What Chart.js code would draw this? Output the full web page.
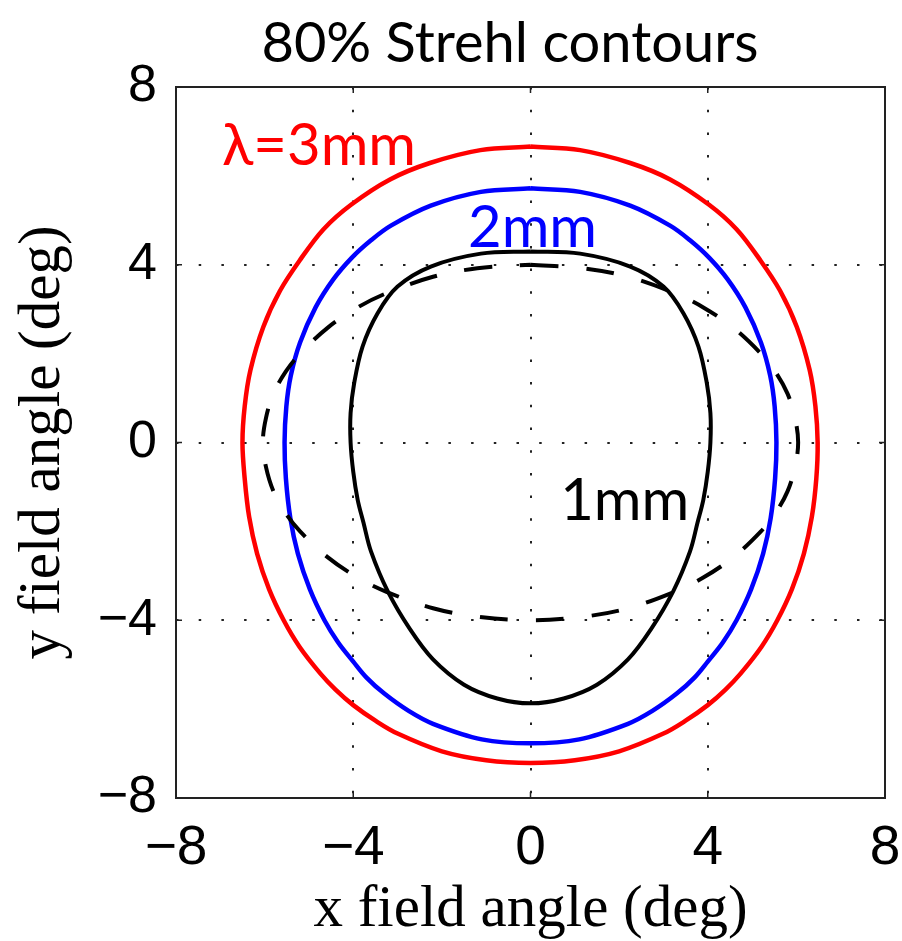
<!DOCTYPE html>
<html>
<head>
<meta charset="utf-8">
<script src="https://cdn.jsdelivr.net/npm/chart.js@4.4.1/dist/chart.umd.min.js"></script>
<style>
  html, body { margin: 0; padding: 0; background: #ffffff; }
  #wrap { width: 902px; height: 941px; }
</style>
</head>
<body>
<div id="wrap"><canvas id="chart" width="902" height="941"></canvas></div>
<script>
// 80% Strehl contours over the field of view (degrees)
const TITLE = '80% Strehl contours';
const X_TICKS = [-8, -4, 0, 4, 8];
const Y_TICKS = [-8, -4, 0, 4, 8];

// λ = 3 mm contour (clockwise from the top)
const c3mmX = [0, 1.12, 2.25, 3.15, 4.03, 4.65, 5.18, 5.63, 6.01, 6.3, 6.43, 6.48, 6.45, 6.35, 6.17, 5.9, 5.57, 5.21, 4.74, 4.4, 4.0, 3.5, 3.0, 2.0, 1.0, 0, -1.0, -2.0, -3.0, -3.5, -4.0, -4.4, -4.74, -5.21, -5.57, -5.9, -6.17, -6.35, -6.45, -6.5, -6.45, -6.32, -6.03, -5.65, -5.2, -4.67, -4.05, -3.17, -2.27, -1.13, 0];
const c3mmY = [6.66, 6.58, 6.29, 5.92, 5.35, 4.8, 4.11, 3.42, 2.6, 1.63, 0.81, 0, -0.81, -1.67, -2.5, -3.3, -4.0, -4.6, -5.2, -5.56, -5.91, -6.26, -6.55, -6.95, -7.15, -7.21, -7.15, -6.95, -6.55, -6.26, -5.91, -5.56, -5.2, -4.6, -4.0, -3.3, -2.5, -1.67, -0.81, 0, 0.81, 1.63, 2.6, 3.42, 4.11, 4.8, 5.35, 5.92, 6.29, 6.58, 6.66];

// λ = 2 mm contour
const c2mmX = [0, 1.12, 2.25, 3.15, 3.6, 4.03, 4.45, 4.85, 5.2, 5.41, 5.51, 5.55, 5.52, 5.42, 5.25, 4.98, 4.65, 4.34, 4.0, 3.7, 3.3, 2.75, 2.2, 1.1, 0, -1.1, -2.2, -2.75, -3.3, -3.7, -4.0, -4.34, -4.65, -4.98, -5.25, -5.42, -5.52, -5.55, -5.51, -5.41, -5.2, -4.85, -4.45, -4.03, -3.6, -3.15, -2.25, -1.12, 0];
const c2mmY = [5.72, 5.64, 5.33, 4.88, 4.55, 4.16, 3.67, 3.04, 2.25, 1.5, 0.81, 0, -0.81, -1.7, -2.5, -3.3, -4.0, -4.5, -4.93, -5.29, -5.65, -6.04, -6.33, -6.68, -6.77, -6.68, -6.33, -6.04, -5.65, -5.29, -4.93, -4.5, -4.0, -3.3, -2.5, -1.7, -0.81, 0, 0.81, 1.5, 2.25, 3.04, 3.67, 4.16, 4.55, 4.88, 5.33, 5.64, 5.72];

// λ = 1 mm contour (solid)
const c1mmX = [0, 1.12, 2.25, 3.0, 3.45, 3.79, 3.98, 4.06, 4.06, 4.0, 3.9, 3.77, 3.6, 3.22, 2.72, 2.2, 1.5, 0.75, 0, -0.75, -1.5, -2.2, -2.72, -3.22, -3.6, -3.77, -3.9, -4.0, -4.06, -4.06, -3.98, -3.79, -3.45, -3.0, -2.25, -1.12, 0];
const c1mmY = [4.3, 4.25, 3.96, 3.51, 2.91, 2.16, 1.33, 0.66, 0, -0.66, -1.29, -1.8, -2.45, -3.35, -4.2, -4.88, -5.45, -5.76, -5.87, -5.76, -5.45, -4.88, -4.2, -3.35, -2.45, -1.8, -1.29, -0.66, 0, 0.66, 1.33, 2.16, 2.91, 3.51, 3.96, 4.25, 4.3];

// 1 mm contour (dashed)
const c1mmDashX = [0, 1.2, 2.2, 3.25, 3.9, 4.58, 5.2, 5.52, 5.8, 5.97, 6.04, 5.97, 5.8, 5.52, 5.2, 4.58, 3.9, 3.25, 2.2, 1.2, 0, -1.2, -2.2, -3.25, -3.9, -4.58, -5.2, -5.52, -5.8, -5.97, -6.04, -5.97, -5.8, -5.52, -5.2, -4.58, -3.9, -3.25, -2.2, -1.2, 0];
const c1mmDashY = [4.0, 3.92, 3.73, 3.36, 3.04, 2.58, 2.0, 1.6, 1.1, 0.55, 0, -0.55, -1.1, -1.6, -2.0, -2.58, -3.04, -3.36, -3.73, -3.92, -4.0, -3.92, -3.73, -3.36, -3.04, -2.58, -2.0, -1.6, -1.1, -0.55, 0, 0.55, 1.1, 1.6, 2.0, 2.58, 3.04, 3.36, 3.73, 3.92, 4.0];

// Contour labels (text, anchor in data units, colour)
const LABEL_TEXT = ['λ=3mm', '2mm', '1mm'];
const LABEL_X = [-6.96, -1.41, 0.67];
const LABEL_Y = [6.25, 4.40, -1.75];
const LABEL_COLOR = ['#ff0000', '#0000ff', '#000000'];

const pts = (xs, ys) => xs.map((x, i) => ({ x: x, y: ys[i] }));

const SANS = '"Liberation Sans", Arial, sans-serif';
const SERIF = '"Liberation Serif", "Times New Roman", serif';
const HUMAN = 'Lato, "Open Sans", sans-serif';

const fmtTick = v => (v < 0 ? '\u2212' + Math.abs(v) : String(v));

// Frame, inward tick marks, title and contour labels
const decorations = {
  id: 'decorations',
  afterDatasetsDraw(chart) {
    const { ctx, chartArea: a, scales } = chart;
    const xs = scales.x, ys = scales.y;
    ctx.save();
    ctx.strokeStyle = '#222222';
    ctx.lineWidth = 2;
    ctx.setLineDash([]);
    ctx.strokeRect(a.left, a.top, a.right - a.left, a.bottom - a.top);
    const tl = 6;
    ctx.lineWidth = 1.5;
    ctx.beginPath();
    X_TICKS.forEach(v => {
      const px = xs.getPixelForValue(v);
      ctx.moveTo(px, a.bottom); ctx.lineTo(px, a.bottom - tl);
      ctx.moveTo(px, a.top); ctx.lineTo(px, a.top + tl);
    });
    Y_TICKS.forEach(v => {
      const py = ys.getPixelForValue(v);
      ctx.moveTo(a.left, py); ctx.lineTo(a.left + tl, py);
      ctx.moveTo(a.right, py); ctx.lineTo(a.right - tl, py);
    });
    ctx.stroke();

    ctx.textAlign = 'left';
    ctx.textBaseline = 'alphabetic';
    ctx.font = '58px ' + HUMAN;
    LABEL_TEXT.forEach((t, i) => {
      ctx.fillStyle = LABEL_COLOR[i];
      ctx.fillText(t, xs.getPixelForValue(LABEL_X[i]), ys.getPixelForValue(LABEL_Y[i]));
    });

    ctx.fillStyle = '#000000';
    ctx.font = '56px ' + HUMAN;
    ctx.textAlign = 'center';
    ctx.fillText(TITLE, 510, 62);
    ctx.restore();
  }
};

const gridColor = ctx => (ctx.tick && (ctx.tick.value === -8 || ctx.tick.value === 8)) ? 'rgba(0,0,0,0)' : '#222222';

const ds = (label, xs, ys, color, width, dash) => ({
  label: label,
  data: pts(xs, ys),
  showLine: true,
  borderColor: color,
  backgroundColor: color,
  borderWidth: width,
  borderDash: dash,
  pointRadius: 0,
  pointHoverRadius: 0,
  tension: 0.35,
  fill: false
});

new Chart(document.getElementById('chart'), {
  type: 'scatter',
  data: {
    datasets: [
      ds('1mm dashed', c1mmDashX, c1mmDashY, '#000000', 4, [28, 28]),
      ds('1mm', c1mmX, c1mmY, '#000000', 4, []),
      ds('2mm', c2mmX, c2mmY, '#0000ff', 4.5, []),
      ds('3mm', c3mmX, c3mmY, '#ff0000', 4.5, [])
    ]
  },
  options: {
    responsive: false,
    animation: false,
    devicePixelRatio: 1,
    layout: { padding: { top: 87, right: 17, bottom: 0, left: 0 } },
    plugins: { legend: { display: false }, title: { display: false }, tooltip: { enabled: false } },
    scales: {
      x: {
        type: 'linear', min: -8, max: 8,
        afterBuildTicks: s => { s.ticks = X_TICKS.map(v => ({ value: v })); },
        afterFit: s => { s.height = 143; s.paddingLeft = 0; s.paddingRight = 0; },
        ticks: { font: { family: SANS, size: 55 }, color: '#000', padding: 18, callback: fmtTick, maxRotation: 0, autoSkip: false },
        grid: { color: gridColor, lineWidth: 2, drawTicks: false },
        border: { display: false, dash: [2.5, 20.2] },
        title: { display: true, text: 'x field angle (deg)', color: '#000', font: { family: SERIF, size: 59, lineHeight: 1 }, padding: { top: 0, bottom: 1 } }
      },
      y: {
        type: 'linear', min: -8, max: 8,
        afterBuildTicks: s => { s.ticks = Y_TICKS.map(v => ({ value: v })); },
        afterFit: s => { s.width = 176; s.paddingTop = 0; s.paddingBottom = 0; },
        ticks: { font: { family: SANS, size: 52 }, color: '#000', padding: 19, callback: fmtTick, autoSkip: false },
        grid: { color: gridColor, lineWidth: 2, drawTicks: false },
        border: { display: false, dash: [2.5, 20.2] },
        title: { display: true, text: 'y field angle (deg)', color: '#000', font: { family: SERIF, size: 59, lineHeight: 1 }, padding: { top: 14, bottom: 0 } }
      }
    }
  },
  plugins: [decorations]
});
</script>
</body>
</html>
